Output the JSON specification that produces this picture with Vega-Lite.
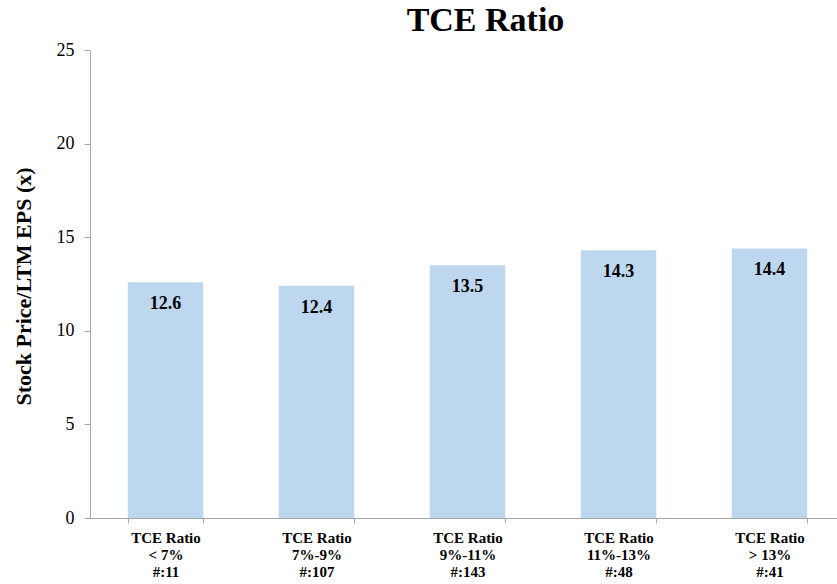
{
  "$schema": "https://vega.github.io/schema/vega-lite/v6.json",
  "width": 755,
  "height": 468,
  "autosize": {"type": "none"},
  "padding": {"left": 90, "top": 50, "right": 0, "bottom": 66},
  "background": "white",
  "title": {
    "text": "TCE Ratio",
    "font": "Liberation Serif",
    "fontSize": 34,
    "fontWeight": "bold",
    "color": "#000000",
    "anchor": "middle",
    "dx": 18,
    "baseline": "alphabetic",
    "offset": -24
  },
  "data": {
    "values": [
      {"group": "TCE Ratio|< 7%|#:11", "value": 12.6},
      {"group": "TCE Ratio|7%-9%|#:107", "value": 12.4},
      {"group": "TCE Ratio|9%-11%|#:143", "value": 13.5},
      {"group": "TCE Ratio|11%-13%|#:48", "value": 14.3},
      {"group": "TCE Ratio|> 13%|#:41", "value": 14.4}
    ]
  },
  "encoding": {
    "x": {
      "field": "group",
      "type": "nominal",
      "sort": null,
      "scale": {"paddingInner": 0.5, "paddingOuter": 0.25},
      "axis": {
        "title": null,
        "labelAngle": 0,
        "labelExpr": "datum.value ? split(datum.value, '|') : ''",
        "labelFont": "Liberation Serif",
        "labelFontWeight": "bold",
        "labelFontSize": 15,
        "labelLineHeight": 17,
        "labelColor": "#000000",
        "labelPadding": 7,
        "labelBaseline": "top",
        "tickBand": "extent",
        "tickSize": 5,
        "tickColor": "#A6A6A6",
        "domainColor": "#A6A6A6",
        "labelOverlap": false,
        "labelLimit": 0
      }
    },
    "y": {
      "field": "value",
      "type": "quantitative",
      "scale": {"domain": [0, 25], "nice": false},
      "axis": {
        "title": "Stock Price/LTM EPS (x)",
        "titleFont": "Liberation Serif",
        "titleFontSize": 22,
        "titleFontWeight": "bold",
        "titleColor": "#000000",
        "titleX": -67,
        "titleY": 236,
        "titleAngle": -90,
        "titleAlign": "center",
        "titleBaseline": "middle",
        "values": [0, 5, 10, 15, 20, 25],
        "grid": false,
        "labelFont": "Liberation Serif",
        "labelFontSize": 18,
        "labelColor": "#000000",
        "labelPadding": 10,
        "tickSize": 6,
        "tickColor": "#A6A6A6",
        "domainColor": "#A6A6A6"
      }
    }
  },
  "layer": [
    {"mark": {"type": "bar", "color": "#BDD7EE"}},
    {
      "mark": {
        "type": "text",
        "font": "Liberation Serif",
        "fontSize": 18,
        "fontWeight": "bold",
        "color": "#000000",
        "baseline": "alphabetic",
        "dy": 27
      },
      "encoding": {"text": {"field": "value", "type": "quantitative", "format": ".1f"}}
    }
  ],
  "config": {"view": {"stroke": null}}
}
